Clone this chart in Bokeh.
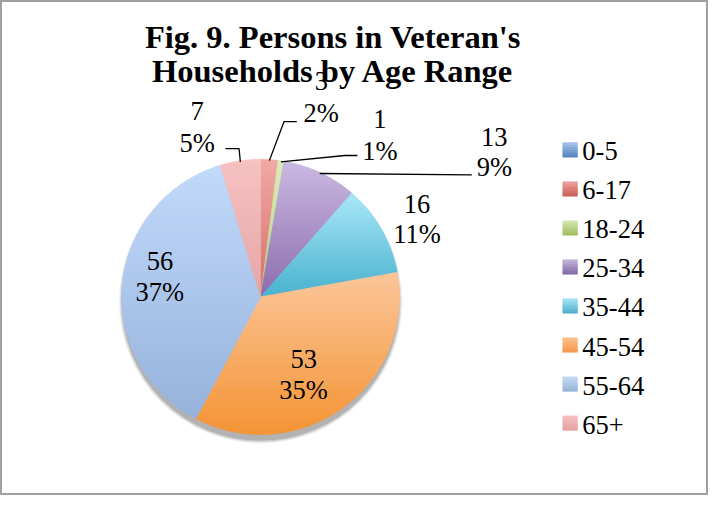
import numpy as np
from bokeh.plotting import figure
from bokeh.models import Range1d
from bokeh.core.properties import value
from bokeh.embed import file_html
from bokeh.resources import INLINE

# ---------------- data ----------------
categories = ["0-5", "6-17", "18-24", "25-34", "35-44", "45-54", "55-64", "65+"]
counts = [0, 3, 1, 13, 16, 53, 56, 7]
percent_labels = ["0%", "2%", "1%", "9%", "11%", "35%", "37%", "5%"]
title_lines = ["Fig. 9. Persons in Veteran's", "Households by Age Range"]

# ---------------- styles ----------------
slice_top = ["#A7C3EC", "#F2AAA6", "#DCEEB6", "#CABAE2", "#AAE8FA", "#FCC69A", "#C2DAFA", "#F8C2C2"]
slice_bot = ["#4F81BD", "#D66C68", "#B4D484", "#8C6CAC", "#48B2CE", "#F59434", "#96B2DC", "#E6A6A6"]
leg_top = ["#A7C3EC", "#EFA3A0", "#D7E9B2", "#C5B6DC", "#A8E6F8", "#FDC08C", "#C6DAF6", "#F6C0C0"]
leg_bot = ["#4F81BD", "#C95A56", "#9BBB59", "#8064A2", "#4BACC6", "#F79646", "#95B3D7", "#E3A0A0"]

FONT = value("Liberation Serif")
REF_W, REF_H = 724, 511


def Y(y):
    return REF_H - y


def hex2rgb(h):
    h = h.lstrip("#")
    return np.array([int(h[i:i + 2], 16) for i in (0, 2, 4)], dtype=float)


def mix(c1, c2, t):
    c = hex2rgb(c1) * (1 - t) + hex2rgb(c2) * t
    return "#%02x%02x%02x" % tuple(int(round(v)) for v in c)


def clip(poly, y0, keep_above):
    out = []
    n = len(poly)
    for i in range(n):
        P = poly[i]
        Q = poly[(i + 1) % n]
        inP = P[1] >= y0 if keep_above else P[1] <= y0
        inQ = Q[1] >= y0 if keep_above else Q[1] <= y0
        if inP:
            out.append(P)
        if inP != inQ:
            t = (y0 - P[1]) / (Q[1] - P[1])
            out.append((P[0] + t * (Q[0] - P[0]), y0))
    return out


p = figure(width=708, height=495, x_range=Range1d(0, REF_W), y_range=Range1d(0, REF_H),
           output_backend="svg", toolbar_location=None, min_border=0)
p.axis.visible = False
p.grid.visible = False
p.outline_line_color = "#A0A0A0"
p.outline_line_width = 3
p.background_fill_color = "white"
p.border_fill_color = "white"

cx, cy, R = 266, Y(306), 142

# soft shadow, mostly below the pie
for k, a in zip([3, 2, 1, 0], [0.05, 0.07, 0.09, 0.12]):
    p.circle(x=[cx], y=[cy - 5], radius=R + k, fill_color="#000000", fill_alpha=a, line_color=None)

# slices with vertical gradient
total = float(sum(counts))
theta = np.concatenate([[0], np.cumsum(counts)]) / total * 2 * np.pi  # clockwise from top
xs_all, ys_all, cols = [], [], []
mids = []
for i, c in enumerate(counts):
    t0, t1 = theta[i], theta[i + 1]
    mids.append((t0 + t1) / 2)
    if c == 0:
        continue
    n = max(4, int(np.degrees(t1 - t0)) * 2)
    ts = np.linspace(t0, t1, n)
    poly = [(cx, cy)] + [(cx + R * np.sin(t), cy + R * np.cos(t)) for t in ts]
    yv = [q[1] for q in poly]
    ymin, ymax = min(yv), max(yv)
    nb = 40
    edges = np.linspace(ymax, ymin, nb + 1)
    for b in range(nb):
        hi, lo = edges[b], edges[b + 1]
        sub = clip(clip(poly, lo, True), hi, False)
        if len(sub) < 3:
            continue
        xs_all.append([q[0] for q in sub])
        ys_all.append([q[1] for q in sub])
        cols.append(mix(slice_top[i], slice_bot[i], (b + 0.5) / nb))
p.patches(xs_all, ys_all, fill_color=cols, line_color=cols, line_width=0.7)

# leader lines: start at slice edge (mid angle), then elbow & end
leaders = {1: [(290, 125), (303, 125)],
           2: [(352, 160), (365, 160)],
           3: [(482, 180)],
           7: [(244, 153), (230, 153)]}
for i, pts in leaders.items():
    m = mids[i]
    sx, sy = cx + (R - 1) * np.sin(m), cy + (R - 1) * np.cos(m)
    lx = [sx] + [q[0] for q in pts]
    ly = [sy] + [Y(q[1]) for q in pts]
    p.line(lx, ly, line_color="black", line_width=1.3)

# data labels (count over percentage)
label_pos = {1: (328, 83, 116), 2: (388, 122, 155), 3: (505, 141, 172), 4: (426, 210, 241),
             5: (310, 370, 402), 6: (163, 269, 301), 7: (201, 114, 147)}
lx, ly, lt = [], [], []
for i, (x, y1, y2) in label_pos.items():
    lx += [x, x]
    ly += [Y(y1), Y(y2)]
    lt += [str(counts[i]), percent_labels[i]]
p.text(lx, ly, text=lt, text_font=FONT, text_font_size="26.5px", text_align="center",
       text_baseline="middle", text_color="black")

# title
p.text([340, 340], [Y(38), Y(72.5)], text=title_lines, text_font=FONT, text_font_size="32.5px",
       text_font_style="bold", text_align="center", text_baseline="alphabetic", text_color="black")

# legend
ns = 8
for i, cat in enumerate(categories):
    top = 146.7 + i * 40.3
    qs = [mix(leg_top[i], leg_bot[i], (s + 0.5) / ns) for s in range(ns)]
    p.quad(left=[575] * ns, right=[590] * ns,
           top=[Y(top + s * 15 / ns) for s in range(ns)],
           bottom=[Y(top + (s + 1) * 15 / ns) for s in range(ns)],
           fill_color=qs, line_color=qs, line_width=0.5)
p.text([595] * len(categories), [Y(146.7 + i * 40.3 + 9) for i in range(len(categories))], text=categories,
       text_font=FONT, text_font_size="26.5px", text_align="left", text_baseline="middle", text_color="black")

open("out.html", "w").write(file_html(p, INLINE))
